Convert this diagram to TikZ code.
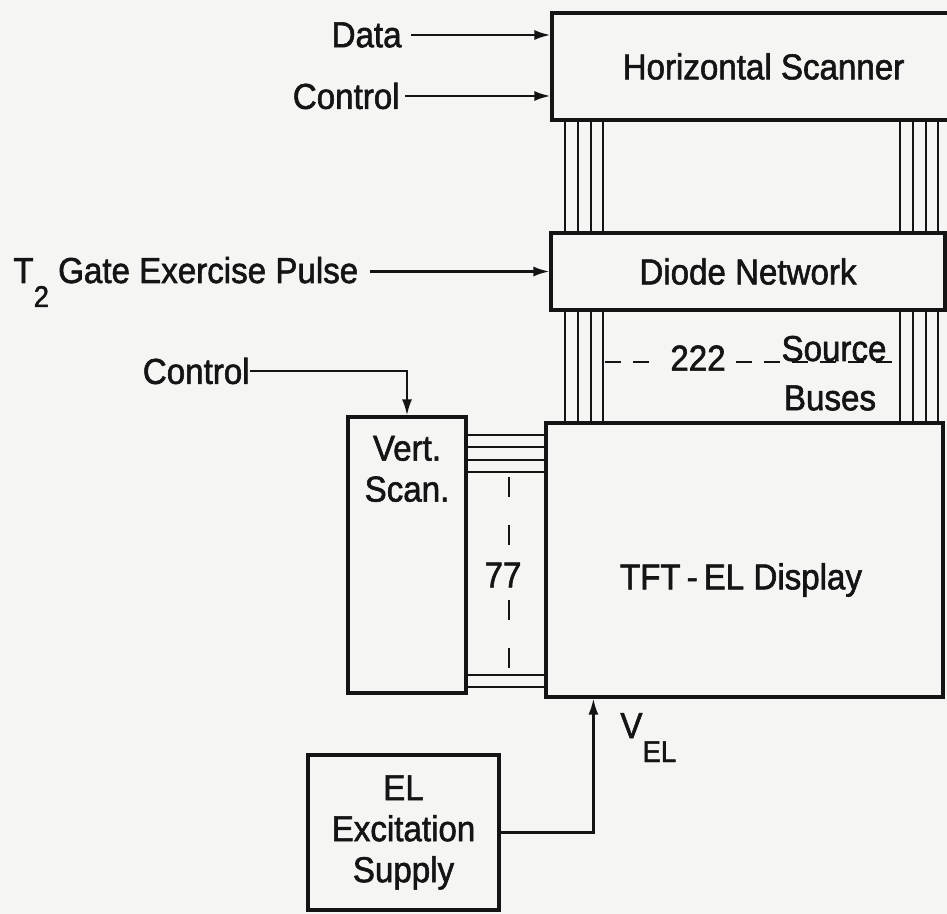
\documentclass[tikz,border=0pt]{standalone}
\usepackage{fontspec}
\setmainfont[FakeStretch=0.92,FakeBold=1.6]{Liberation Sans}
\usetikzlibrary{arrows.meta,positioning,calc}
\definecolor{Paper}{HTML}{F5F5F3}
\definecolor{Ink}{HTML}{141414}

\begin{document}
\begin{tikzpicture}[x=0.5pt,y=-0.5pt,font=\fontsize{18}{20.5}\selectfont,>={Latex[length=8pt,width=5pt]},
  blk/.style={draw=Ink,line width=1.6pt,inner sep=0pt,text=Ink},
  sig/.style={draw=Ink,line width=1.1pt},
  bus/.style={draw=Ink,line width=1pt},
  txt/.style={inner sep=0pt,text=Ink}]
  \fill[Paper] (0,0) rectangle (947,914);
  \useasboundingbox (0,0) rectangle (947,914);

  \node[blk,minimum width=211.5pt,minimum height=53.5pt] (hscan) at (763.5,66.5) {Horizontal Scanner};
  \node[blk,minimum width=197pt,minimum height=38.5pt] (diode) at (748,271.5) {Diode Network};
  \node[blk,minimum width=198.5pt,minimum height=137pt] (tft) at (744.5,560) {};
  \node[txt] (tftname) at (741,580) {TFT\,-\,EL Display};
  \node[blk,minimum width=59pt,minimum height=138pt] (vscan) at (407,555) {};
  \node[txt,align=center,below=10pt of vscan.north] (vsname) {Vert.\\Scan.};
  \node[blk,minimum width=95.5pt,minimum height=77.5pt,align=center] (elsup) at (403.5,832.5) {EL\\Excitation\\Supply};

  \node[txt,anchor=east] (data) at (402,35) {Data};
  \node[txt,anchor=east] (hctl) at (400,96) {Control};
  \node[txt,anchor=base west] (gate) at (13,283) {T\raisebox{-12pt}{\fontsize{15}{15}\selectfont 2} Gate Exercise Pulse};
  \node[txt,anchor=east] (vctl) at (250,371) {Control};

  \draw[sig,->,shorten <=4.5pt] (data) -- (data -| hscan.west);
  \draw[sig,->,shorten <=2.5pt] (hctl) -- (hctl -| hscan.west);
  \draw[sig,->,shorten <=5.5pt] (gate.east |- diode.west) -- (diode.west);
  \draw[sig,->] (vctl.east) -| (vscan.north);

  \foreach \x in {565,578,591,603,900,913,926,938} {
    \coordinate (bx) at (\x,0);
    \draw[bus] (bx |- hscan.south) -- (bx |- diode.north);
    \draw[bus] (bx |- diode.south) -- (bx |- tft.north);
  }
  \foreach \y in {435,447,460,472,675,687} {
    \coordinate (ry) at (0,\y);
    \draw[bus] (ry -| vscan.east) -- (ry -| tft.west);
  }

  \node[txt,inner sep=6pt] (rows) at (503,575) {77};
  \coordinate (rtop) at (509,477);
  \coordinate (rbot) at (509,670);
  \draw[bus,dash pattern=on 10pt off 14pt] (rtop) -- (rtop |- rows.north);
  \draw[bus,dash pattern=on 10pt off 14pt] (rtop |- rows.south) -- (rbot);

  \node[txt,inner sep=5pt] (cols) at (698,358) {222};
  \coordinate (cleft) at (605,362);
  \coordinate (cright) at (897,362);
  \draw[bus,dash pattern=on 8pt off 6pt] (cleft) -- (cleft -| cols.west);
  \draw[bus,dash pattern=on 8pt off 6pt] (cols.east |- cright) -- (cright);
  \node[txt,anchor=base] (srcname) at (834,361) {Source};
  \node[txt] (busname) at (830,398) {Buses};

  \coordinate (velin) at ($(tft.south west)+(49,0)$);
  \draw[sig,->] (elsup.east) -| (velin);
  \node[txt,anchor=base west] (vel) at (620,738) {V\raisebox{-12pt}{\fontsize{15}{15}\selectfont EL}};
\end{tikzpicture}
\end{document}
